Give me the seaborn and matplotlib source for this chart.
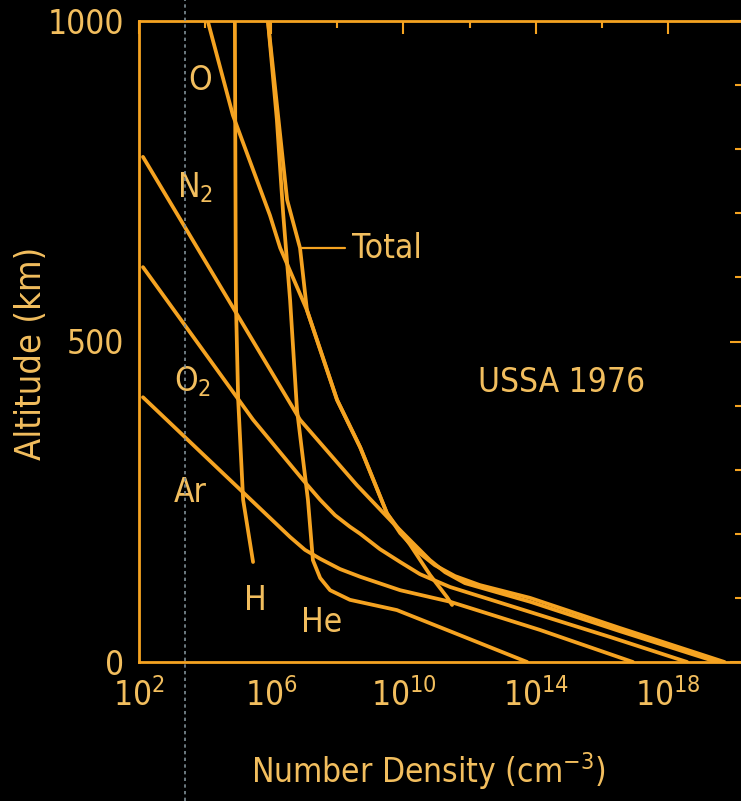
import numpy as np
import pandas as pd
import matplotlib
matplotlib.use("Agg")
import matplotlib.pyplot as plt
from matplotlib.lines import Line2D
import seaborn as sns

# ---------------- data ----------------
# log10 number density (cm^-3) and altitude (km) for each species
n2_logn = [2.12, 6.87, 8.59, 9.68, 10.20, 10.80, 11.26, 11.86, 13.83, 16.55, 19.48]
n2_alt = [788, 378, 276, 217, 190, 159, 140, 123, 94, 48, 0]

o2_logn = [2.12, 5.45, 6.96, 7.48, 7.93, 8.38, 8.69, 9.29, 9.90, 10.50, 11.41,
           13.83, 16.25, 18.58]
o2_alt = [616, 378, 284, 253, 229, 211, 200, 176, 156, 137, 117, 78, 39, 0]

ar_logn = [2.12, 6.57, 7.02, 7.48, 8.08, 8.69, 9.90, 11.41, 14.13, 16.94]
ar_alt = [413, 195, 175, 161, 145, 133, 112, 94, 50, 0]

he_logn = [5.90, 6.17, 6.36, 6.57, 6.78, 7.11, 7.26, 7.48, 7.78, 8.38, 9.80, 11.41, 13.74]
he_alt = [1000, 846, 700, 565, 393, 253, 159, 131, 112, 97, 81, 48, 0]

h_logn = [4.90, 4.93, 5.00, 5.15, 5.45]
h_alt = [1000, 565, 409, 253, 156]

o_logn = [4.09, 4.84, 5.96, 6.27, 7.08, 7.99, 8.69, 9.50, 10.20, 10.80, 11.32, 11.47]
o_alt = [998, 853, 697, 646, 549, 409, 335, 232, 183, 136, 101, 89]

tot_logn = [5.90, 6.48, 6.87, 7.08, 7.99, 8.69, 9.50, 9.90, 10.41, 10.95, 11.56,
            12.31, 13.83, 16.55, 19.71]
tot_alt = [1000, 721, 646, 549, 409, 335, 232, 201, 173, 151, 134, 120, 100, 53, 0]

species = ["N2", "O2", "Ar", "He", "H", "O", "Total"]
xtick_vals = [1e2, 1e6, 1e10, 1e14, 1e18]
xtick_labels = [r"$\mathregular{10^{2}}$", r"$\mathregular{10^{6}}$",
                r"$\mathregular{10^{10}}$", r"$\mathregular{10^{14}}$",
                r"$\mathregular{10^{18}}$"]
ytick_vals = [0, 500, 1000]
ytick_labels = ["0", "500", "1000"]

series = {
    "N2": (n2_logn, n2_alt), "O2": (o2_logn, o2_alt), "Ar": (ar_logn, ar_alt),
    "He": (he_logn, he_alt), "H": (h_logn, h_alt), "O": (o_logn, o_alt),
    "Total": (tot_logn, tot_alt),
}
rows = []
for sp in species:
    lg, al = series[sp]
    for i, (a, b) in enumerate(zip(lg, al)):
        rows.append({"species": sp, "order": i, "density": 10 ** a, "alt": b})
df = pd.DataFrame(rows)

# ---------------- style ----------------
ORANGE = "#F5A321"
TEXT = "#F2BE5E"
sns.set_theme(style="dark")
plt.rcParams["font.family"] = ["DejaVu Sans"]
plt.rcParams["font.stretch"] = "condensed"
plt.rcParams["mathtext.fontset"] = "custom"
plt.rcParams["mathtext.rm"] = "DejaVu Sans:stretch=condensed"
plt.rcParams["mathtext.it"] = "DejaVu Sans:stretch=condensed"

W, H = 741, 801
fig = plt.figure(figsize=(W / 100, H / 100), dpi=100, facecolor="black")
ax_l, ax_r, ax_b, ax_t = 139, 742, 662, 21
ax = fig.add_axes([ax_l / W, (H - ax_b) / H, (ax_r - ax_l) / W, (ax_b - ax_t) / H])
ax.set_facecolor("black")

sns.lineplot(data=df, x="density", y="alt", units="species", estimator=None,
             sort=False, color=ORANGE, lw=2.7, ax=ax, legend=False)

ax.set_xscale("log")
ax.set_xlim(1e2, 10 ** (2 + (ax_r - ax_l) / 33.06))
ax.set_ylim(0, 1000)
ax.grid(False)

for side in ["left", "bottom", "top"]:
    ax.spines[side].set_color(ORANGE)
    ax.spines[side].set_linewidth(2.0)
ax.spines["right"].set_visible(False)

ax.set_xticks(xtick_vals)
ax.set_xticklabels(xtick_labels)
ax.set_xticks([1e4, 1e8, 1e12, 1e16], minor=True)
ax.set_yticks(ytick_vals)
ax.set_yticklabels(ytick_labels)
ax.set_yticks(list(range(100, 1000, 100)), minor=True)
ax.xaxis.set_minor_formatter(matplotlib.ticker.NullFormatter())

ax.tick_params(which="both", direction="in", top=True, right=True,
               color=ORANGE, width=1.5, labelcolor=TEXT, labelsize=24)
ax.tick_params(which="major", length=9)
ax.tick_params(which="minor", length=5)
ax.tick_params(axis="x", which="major", pad=12)
ax.tick_params(axis="y", which="major", pad=11)

ax.set_xlabel(r"Number Density (cm$\mathregular{^{-3}}$)", color=TEXT, fontsize=24)
ax.set_ylabel("Altitude (km)", color=TEXT, fontsize=26)


def fx(px):
    return (px - ax_l) / (ax_r - ax_l)


def fy(py):
    return (ax_b - py) / (ax_b - ax_t)


ax.xaxis.set_label_coords(fx(428), fy(750))
ax.yaxis.set_label_coords(fx(14), fy(353))
ax.yaxis.label.set_verticalalignment("top")

lab = dict(color=TEXT, fontsize=24, transform=ax.transAxes, ha="center", va="center")
ax.text(fx(200), fy(80), "O", **lab)
ax.text(fx(195), fy(188), r"N$\mathregular{_2}$", **lab)
ax.text(fx(193), fy(382), r"O$\mathregular{_2}$", **lab)
ax.text(fx(190), fy(492), "Ar", **lab)
ax.text(fx(255), fy(600), "H", **lab)
ax.text(fx(322), fy(622), "He", **lab)
ax.text(fx(352), fy(248), "Total", color=TEXT, fontsize=24, transform=ax.transAxes,
        ha="left", va="center")
ax.plot([fx(302), fx(345)], [fy(248), fy(248)], color=ORANGE, lw=1.6,
        transform=ax.transAxes)
ax.text(fx(562), fy(383), "USSA 1976", **lab)

# scanner artefact: faint dotted vertical line
fig.add_artist(Line2D([185 / W, 185 / W], [0, 1], color="#7f8e96", lw=1.2,
                      ls=(0, (2, 2)), transform=fig.transFigure))

fig.savefig("out.png", dpi=100, facecolor="black")
